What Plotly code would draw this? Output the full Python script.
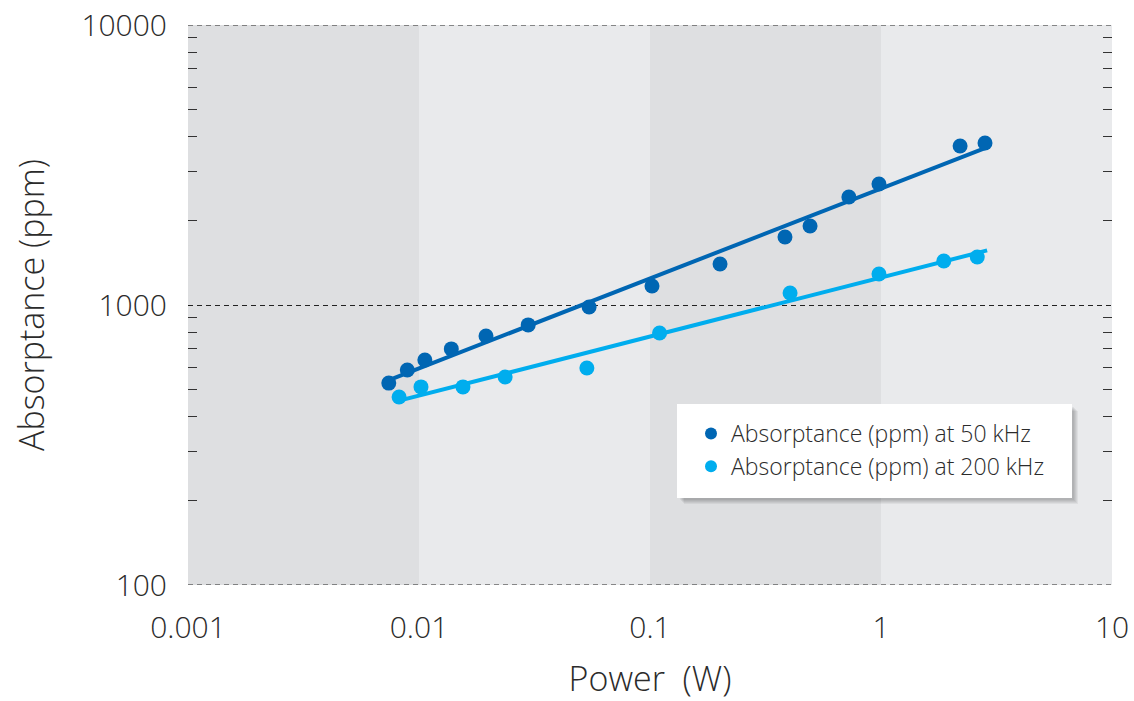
import numpy as np
import plotly.graph_objects as go

# Measured absorptance vs. power at two repetition rates
power_50k = [0.0074, 0.0089, 0.0106, 0.0138, 0.0195, 0.0297, 0.0545, 0.102,
             0.201, 0.384, 0.493, 0.726, 0.98, 2.20, 2.82]
absorp_50k = [526, 586, 636, 697, 775, 849, 984, 1169,
              1401, 1749, 1915, 2430, 2706, 3696, 3790]

power_200k = [0.0082, 0.0102, 0.0155, 0.0236, 0.0533, 0.110, 0.404, 0.98, 1.87, 2.61]
absorp_200k = [469, 510, 510, 553, 596, 794, 1104, 1291, 1436, 1484]

# Extent of the power-law trend lines
fit_range_50k = [0.0076, 2.82]
fit_range_200k = [0.0079, 2.88]

# Shaded decade bands along the power axis
band_edges = [0.001, 0.01, 0.1, 1, 10]

x_ticks = [0.001, 0.01, 0.1, 1, 10]
x_ticktext = ["0.001", "0.01", "0.1", "1", "10"]
y_ticks = [100, 1000, 10000]
y_ticktext = ["100", "1000", "10000"]

DARK = "#0066b3"
LIGHT = "#00adee"
FONT = "Open Sans"
TEXT = "#2b2b2b"


def power_fit(xs, ys, xr):
    k, b = np.polyfit(np.log10(xs), np.log10(ys), 1)
    xr = np.array(xr)
    return xr, 10 ** (k * np.log10(xr) + b)


fig = go.Figure()

fx, fy = power_fit(power_50k, absorp_50k, fit_range_50k)
fig.add_trace(go.Scatter(x=fx, y=fy, mode="lines", line=dict(color=DARK, width=4),
                         showlegend=False, hoverinfo="skip"))
fx, fy = power_fit(power_200k, absorp_200k, fit_range_200k)
fig.add_trace(go.Scatter(x=fx, y=fy, mode="lines", line=dict(color=LIGHT, width=4),
                         showlegend=False, hoverinfo="skip"))

fig.add_trace(go.Scatter(x=power_50k, y=absorp_50k, mode="markers",
                         marker=dict(color=DARK, size=15),
                         name="Absorptance (ppm) at 50 kHz"))
fig.add_trace(go.Scatter(x=power_200k, y=absorp_200k, mode="markers",
                         marker=dict(color=LIGHT, size=15),
                         name="Absorptance (ppm) at 200 kHz"))

# alternating decade bands
shapes = []
for i in range(len(band_edges) - 1):
    shapes.append(dict(type="rect", xref="x", yref="paper",
                       x0=band_edges[i], x1=band_edges[i + 1], y0=0, y1=1,
                       fillcolor="#dedfe1" if i % 2 == 0 else "#e9eaec",
                       line=dict(width=0), layer="below"))

# dashed reference lines at the ends of the absorptance range
for yv in (y_ticks[0], y_ticks[-1]):
    shapes.append(dict(type="line", xref="paper", yref="y", x0=0, x1=1, y0=yv, y1=yv,
                       line=dict(color="#222222", width=1, dash="5px,4px"),
                       layer="above"))

# legend panel: white card with a soft drop shadow (paper coordinates)
W, H = 1134, 701
L, R, T, B = 188, 22, 25, 116
pw, ph = W - L - R, H - T - B


def px_to_paper(x, y):
    return (x - L) / pw, (H - B - y) / ph


box = (677, 404, 1072, 498)
for off in (6, 5, 4, 3, 2):
    x0, y1 = px_to_paper(box[0] + off + 1, box[1] + off + 1)
    x1, y0 = px_to_paper(box[2] + off, box[3] + off)
    shapes.append(dict(type="rect", xref="paper", yref="paper",
                       x0=x0, x1=x1, y0=y0, y1=y1,
                       fillcolor="rgba(0,0,0,0.05)", line=dict(width=0),
                       layer="above"))
x0, y1 = px_to_paper(box[0], box[1])
x1, y0 = px_to_paper(box[2], box[3])
shapes.append(dict(type="rect", xref="paper", yref="paper", x0=x0, x1=x1, y0=y0, y1=y1,
                   fillcolor="white", line=dict(width=0), layer="above"))

lx, ly = px_to_paper(691, 412)

minor_y = [m * 10 ** e for e in (2, 3) for m in range(2, 10)]

fig.update_layout(
    width=W, height=H,
    margin=dict(l=L, r=R, t=T, b=B, pad=0),
    paper_bgcolor="white",
    plot_bgcolor="#e9eaec",
    shapes=shapes,
    font=dict(family=FONT, color=TEXT, size=30, weight=300),
    legend=dict(x=lx, y=ly, xanchor="left", yanchor="top",
                bgcolor="rgba(0,0,0,0)", borderwidth=0,
                font=dict(size=23, family=FONT, color=TEXT, weight=300),
                itemsizing="constant", tracegroupgap=0),
    xaxis=dict(type="log", range=[-3, 1], tickmode="array",
               tickvals=x_ticks, ticktext=x_ticktext, automargin=False,
               showgrid=False, zeroline=False, showline=False, ticks="",
               ticklabelstandoff=22,
               tickfont=dict(size=30, family=FONT, color=TEXT, weight=300),
               title=dict(text="Power  (W)", standoff=34,
                          font=dict(size=34, family=FONT, color=TEXT, weight=300))),
    yaxis=dict(type="log", range=[2, 4], zeroline=False, showline=False,
               automargin=False, tickmode="array",
               tickvals=y_ticks, ticktext=y_ticktext,
               showgrid=True, gridcolor="#222222", gridwidth=1, griddash="5px,4px",
               ticks="inside", ticklen=0, tickwidth=0, mirror="allticks",
               ticklabelstandoff=20,
               minor=dict(tickmode="array", tickvals=minor_y, ticks="inside",
                          ticklen=9, tickwidth=1.3, tickcolor="#333333",
                          showgrid=False),
               tickfont=dict(size=30, family=FONT, color=TEXT, weight=300),
               title=dict(text="Absorptance (ppm)", standoff=26,
                          font=dict(size=34, family=FONT, color=TEXT, weight=300))),
)

fig.write_html("out.html")
